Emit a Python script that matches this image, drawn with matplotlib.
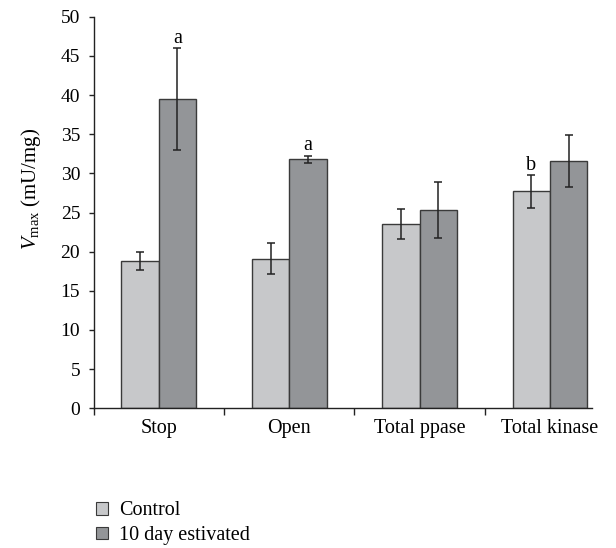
import numpy as np
import matplotlib
matplotlib.use('Agg')
import matplotlib.pyplot as plt
from matplotlib.patches import Patch

plt.rcParams['font.family'] = ['Liberation Serif', 'DejaVu Serif']
plt.rcParams['mathtext.fontset'] = 'custom'
plt.rcParams['mathtext.rm'] = 'Liberation Serif'
plt.rcParams['mathtext.it'] = 'Liberation Serif:italic'

# Data
categories = ['Stop', 'Open', 'Total ppase', 'Total kinase']
control = [18.8, 19.1, 23.5, 27.7]
control_err = [1.2, 2.0, 1.9, 2.1]
estivated = [39.5, 31.8, 25.3, 31.6]
estivated_err = [6.5, 0.45, 3.6, 3.3]
control_marks = ['', '', '', 'b']
estivated_marks = ['a', 'a', '', '']

light = '#c7c8ca'
dark = '#939598'
edge = '#3a3a3a'

fig = plt.figure(figsize=(6.16, 5.48), dpi=100)
ax = fig.add_axes([0.1518, 0.2549, 0.809, 0.7146])

x = np.arange(len(categories))
w = 0.286
ekw = dict(ecolor='#222222', elinewidth=1.1, capsize=2.6, capthick=1.1)

ax.bar(x - w/2, control, w, color=light, edgecolor=edge, linewidth=1,
       yerr=control_err, error_kw=ekw, label='Control')
ax.bar(x + w/2, estivated, w, color=dark, edgecolor=edge, linewidth=1,
       yerr=estivated_err, error_kw=ekw, label='10 day estivated')

# significance letters
for i in range(len(categories)):
    if control_marks[i]:
        ax.text(x[i] - w/2, control[i] + control_err[i] + 0.05, control_marks[i],
                ha='center', va='bottom', fontsize=14.5)
    if estivated_marks[i]:
        ax.text(x[i] + w/2, estivated[i] + estivated_err[i] + 0.05, estivated_marks[i],
                ha='center', va='bottom', fontsize=14.5)

ax.set_ylim(0, 50)
ax.set_xlim(-0.5, 3.32)
ax.set_yticks(np.arange(0, 51, 5))
ax.set_xticks(x)
ax.set_xticklabels(categories, fontsize=14.5)
ax.set_xticks(np.arange(-0.5, 3.0, 1.0), minor=True)
ax.tick_params(axis='x', which='major', length=0, pad=8)
ax.tick_params(axis='x', which='minor', length=5, width=1, color='#222222', direction='out')
ax.tick_params(axis='y', length=3.6, width=1, color='#222222', labelsize=14, pad=6)

fig.text(31/616, 1 - 189/548, r'$\mathit{V}_{\rm max}$ (mU/mg)', rotation=90,
         ha='center', va='center', fontsize=15)

for s in ['top', 'right']:
    ax.spines[s].set_visible(False)
for s in ['left', 'bottom']:
    ax.spines[s].set_linewidth(1)
    ax.spines[s].set_color('#222222')

handles = [Patch(facecolor=light, edgecolor=edge, linewidth=0.8),
           Patch(facecolor=dark, edgecolor=edge, linewidth=0.8)]
fig.legend(handles, ['Control', '10 day estivated'], loc='upper left',
           bbox_to_anchor=(0.156, 0.085), frameon=False, fontsize=14.5,
           handlelength=0.58, handleheight=0.58, handletextpad=0.58, labelspacing=0.29,
           borderaxespad=0, borderpad=0)

fig.savefig('out.png', dpi=100)
